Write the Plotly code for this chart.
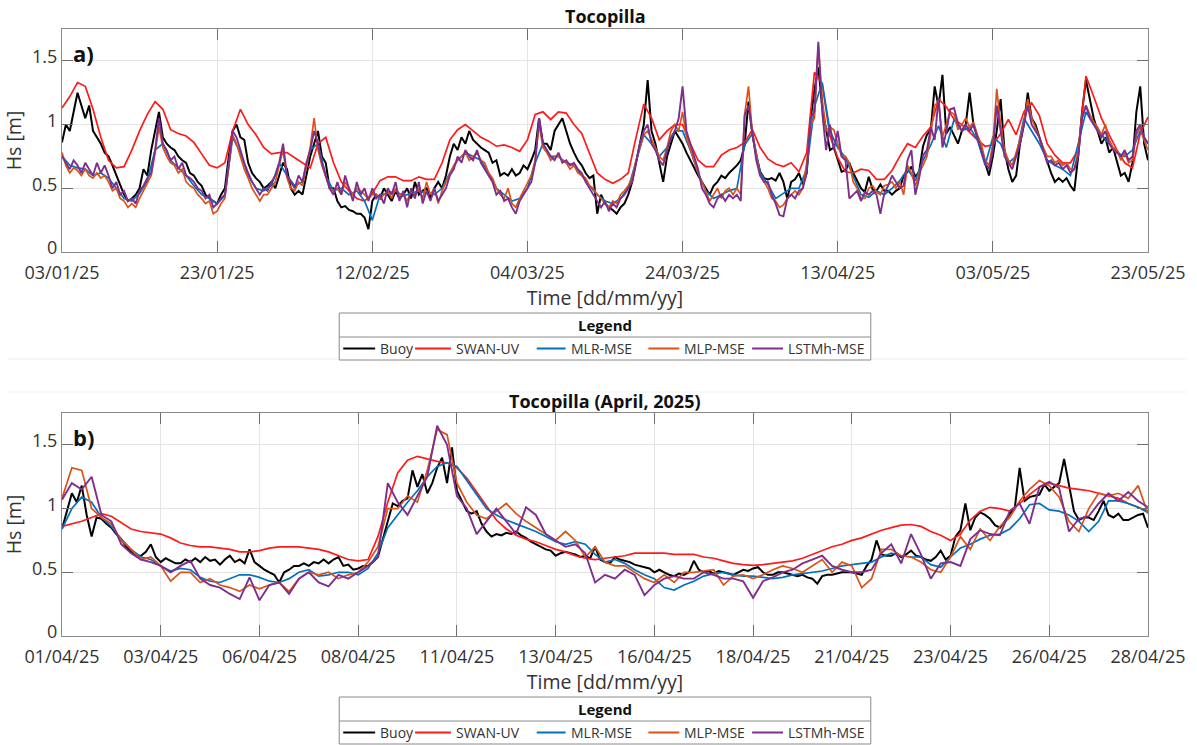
import pandas as pd
import plotly.graph_objects as go

# ---------------------------------------------------------------------------
# Panel a) Tocopilla, 03/01/25 - 23/05/25  (Hs in metres)
# ---------------------------------------------------------------------------
TOP_START = "2025-01-03 00:00"
TOP_END = "2025-05-23 00:00"

# 12-hourly values
top_buoy = [
    0.86, 1.00, 0.95, 1.10, 1.25, 1.15, 1.05, 1.15, 0.95, 0.90,
    0.85, 0.78, 0.75, 0.68, 0.60, 0.52, 0.45, 0.40, 0.42, 0.45,
    0.50, 0.65, 0.60, 0.80, 0.95, 1.10, 0.90, 0.85, 0.82, 0.80,
    0.75, 0.72, 0.70, 0.62, 0.60, 0.55, 0.52, 0.45, 0.42, 0.40,
    0.38, 0.45, 0.50, 0.75, 0.95, 1.00, 0.90, 0.88, 0.70, 0.62,
    0.58, 0.55, 0.50, 0.52, 0.55, 0.50, 0.60, 0.70, 0.65, 0.50,
    0.45, 0.48, 0.45, 0.60, 0.75, 0.85, 0.95, 0.75, 0.70, 0.50,
    0.50, 0.40, 0.35, 0.36, 0.33, 0.32, 0.30, 0.30, 0.27, 0.18,
    0.40, 0.45, 0.42, 0.50, 0.45, 0.40, 0.48, 0.42, 0.45, 0.50,
    0.42, 0.55, 0.45, 0.48, 0.50, 0.42, 0.50, 0.55, 0.50, 0.60,
    0.75, 0.85, 0.80, 0.90, 0.85, 0.95, 0.88, 0.85, 0.82, 0.80,
    0.78, 0.70, 0.72, 0.60, 0.62, 0.60, 0.65, 0.60, 0.62, 0.68,
    0.65, 0.72, 0.80, 1.05, 0.85, 0.85, 0.80, 0.95, 1.00, 1.05,
    0.95, 0.85, 0.78, 0.72, 0.68, 0.62, 0.58, 0.60, 0.30, 0.45,
    0.38, 0.35, 0.33, 0.30, 0.35, 0.38, 0.45, 0.55, 0.70, 0.85,
    1.00, 1.35, 0.95, 0.85, 0.70, 0.55, 0.75, 0.85, 0.95, 0.90,
    0.85, 0.78, 0.72, 0.65, 0.60, 0.55, 0.50, 0.45, 0.52, 0.55,
    0.60, 0.58, 0.62, 0.65, 0.68, 0.72, 0.84, 1.18, 0.92, 0.76,
    0.63, 0.58, 0.57, 0.58, 0.56, 0.62, 0.55, 0.42, 0.55, 0.57,
    0.62, 0.53, 0.62, 1.04, 1.27, 1.45, 1.14, 0.96, 0.80, 0.82,
    0.72, 0.63, 0.64, 0.70, 0.62, 0.56, 0.50, 0.47, 0.59, 0.49,
    0.48, 0.53, 0.48, 0.48, 0.45, 0.48, 0.50, 0.60, 0.63, 0.67,
    0.59, 0.63, 0.83, 0.92, 0.96, 1.30, 1.14, 1.39, 0.93, 0.98,
    0.91, 0.85, 0.95, 1.00, 1.25, 1.00, 0.90, 0.80, 0.70, 0.60,
    0.75, 0.95, 1.20, 0.80, 0.65, 0.55, 0.60, 0.85, 1.00, 1.25,
    1.05, 1.00, 0.90, 0.80, 0.70, 0.62, 0.55, 0.58, 0.55, 0.58,
    0.52, 0.48, 0.75, 1.10, 1.35, 1.20, 1.05, 0.95, 0.85, 0.90,
    0.78, 0.82, 0.70, 0.60, 0.62, 0.55, 0.70, 1.10, 1.30, 0.85,
    0.72,
]

# daily values
top_swan = [
    1.13, 1.22, 1.33, 1.30, 1.12, 0.90, 0.72, 0.66, 0.67, 0.80,
    0.95, 1.08, 1.18, 1.12, 0.96, 0.93, 0.91, 0.86, 0.77, 0.68,
    0.66, 0.70, 0.95, 1.12, 1.00, 0.92, 0.82, 0.77, 0.78, 0.78,
    0.74, 0.70, 0.66, 0.85, 0.90, 0.70, 0.55, 0.48, 0.42, 0.40,
    0.46, 0.56, 0.59, 0.59, 0.56, 0.56, 0.59, 0.57, 0.57, 0.70,
    0.88, 0.96, 1.00, 0.95, 0.90, 0.87, 0.83, 0.84, 0.82, 0.79,
    0.88, 1.08, 1.10, 1.04, 1.10, 1.09, 1.00, 0.93, 0.78, 0.62,
    0.57, 0.54, 0.57, 0.62, 0.90, 1.16, 1.05, 0.88, 0.95, 1.00,
    1.00, 0.85, 0.72, 0.67, 0.67, 0.76, 0.80, 0.82,
    0.86, 0.96, 0.82, 0.73, 0.69, 0.67, 0.70, 0.63, 0.78, 1.41,
    1.32, 0.91, 0.74, 0.63, 0.62, 0.65, 0.64, 0.57, 0.57, 0.64,
    0.75, 0.85, 0.82, 0.91, 0.98, 1.20, 1.14, 1.04,
    1.00, 0.94, 0.88, 0.83, 0.84, 0.93, 1.04, 0.92, 1.10, 1.17,
    1.07, 0.85, 0.76, 0.70, 0.70, 0.80, 1.38, 1.22, 1.05, 0.92,
    0.80, 0.70, 0.66, 0.93, 1.06,
]

# daily values
top_mlr = [
    0.75, 0.68, 0.66, 0.65, 0.60, 0.62, 0.58, 0.50, 0.42, 0.40,
    0.46, 0.56, 0.80, 0.85, 0.72, 0.66, 0.60, 0.52, 0.45, 0.42,
    0.38, 0.44, 0.90, 0.78, 0.60, 0.50, 0.48, 0.52, 0.70, 0.60,
    0.52, 0.55, 0.80, 0.85, 0.60, 0.48, 0.50, 0.45, 0.48, 0.40,
    0.25, 0.45, 0.46, 0.48, 0.44, 0.46, 0.48, 0.46, 0.45, 0.50,
    0.62, 0.72, 0.78, 0.75, 0.72, 0.62, 0.50, 0.45, 0.40, 0.42,
    0.50, 0.70, 0.85, 0.75, 0.75, 0.70, 0.68, 0.60, 0.52, 0.45,
    0.40, 0.38, 0.42, 0.50, 0.72, 0.92, 0.85, 0.75, 0.82, 0.95,
    0.95, 0.80, 0.62, 0.48, 0.42, 0.45, 0.48, 0.50,
    0.84, 0.93, 0.62, 0.53, 0.42, 0.46, 0.50, 0.50, 0.65, 1.14,
    1.33, 0.95, 0.82, 0.74, 0.60, 0.45, 0.43, 0.48, 0.45, 0.50,
    0.56, 0.65, 0.56, 0.72, 0.84, 0.99, 0.82, 1.04,
    0.95, 0.98, 0.88, 0.68, 0.90, 0.85, 0.70, 0.75, 1.05, 0.95,
    0.85, 0.72, 0.68, 0.65, 0.60, 0.85, 1.10, 1.00, 0.92, 0.85,
    0.78, 0.75, 0.80, 0.95, 0.85,
]

# 12-hourly values
top_mlp = [
    0.78, 0.68, 0.62, 0.66, 0.64, 0.60, 0.65, 0.60, 0.58, 0.62,
    0.58, 0.60, 0.55, 0.48, 0.50, 0.42, 0.40, 0.35, 0.38, 0.35,
    0.42, 0.48, 0.55, 0.60, 0.78, 0.98, 0.82, 0.75, 0.70, 0.68,
    0.62, 0.65, 0.55, 0.52, 0.50, 0.45, 0.42, 0.38, 0.40, 0.30,
    0.32, 0.38, 0.42, 0.65, 0.92, 0.85, 0.75, 0.65, 0.58, 0.50,
    0.45, 0.40, 0.45, 0.45, 0.50, 0.55, 0.68, 0.80, 0.58, 0.50,
    0.48, 0.55, 0.52, 0.68, 0.82, 1.05, 0.80, 0.68, 0.58, 0.50,
    0.48, 0.50, 0.45, 0.55, 0.50, 0.45, 0.50, 0.48, 0.45, 0.42,
    0.45, 0.45, 0.42, 0.45, 0.48, 0.42, 0.50, 0.45, 0.45, 0.40,
    0.48, 0.45, 0.50, 0.42, 0.55, 0.45, 0.50, 0.38, 0.48, 0.55,
    0.62, 0.68, 0.72, 0.75, 0.78, 0.72, 0.75, 0.78, 0.72, 0.70,
    0.62, 0.58, 0.50, 0.45, 0.42, 0.50, 0.38, 0.35, 0.42, 0.48,
    0.55, 0.60, 0.72, 1.00, 0.82, 0.78, 0.72, 0.75, 0.75, 0.72,
    0.70, 0.65, 0.68, 0.62, 0.60, 0.58, 0.52, 0.50, 0.45, 0.42,
    0.38, 0.35, 0.40, 0.38, 0.45, 0.48, 0.52, 0.58, 0.72, 0.82,
    0.92, 0.95, 0.88, 0.82, 0.75, 0.72, 0.82, 0.95, 1.00, 0.95,
    1.10, 0.90, 0.80, 0.70, 0.62, 0.55, 0.48, 0.40, 0.45, 0.50,
    0.42, 0.48, 0.50, 0.45, 0.50, 0.45, 1.08, 1.30, 0.93, 0.75,
    0.60, 0.55, 0.50, 0.42, 0.40, 0.35, 0.37, 0.42, 0.45, 0.48,
    0.45, 0.50, 0.70, 1.00, 1.05, 1.62, 1.20, 0.95, 0.98, 0.96,
    0.85, 0.75, 0.75, 0.70, 0.55, 0.50, 0.42, 0.42, 0.50, 0.52,
    0.47, 0.45, 0.52, 0.53, 0.55, 0.50, 0.55, 0.45, 0.68, 0.62,
    0.52, 0.62, 0.68, 0.75, 0.93, 1.15, 1.18, 0.90, 1.00, 1.10,
    1.08, 0.96, 1.00, 1.05, 0.98, 1.02, 0.92, 0.85, 0.72, 0.68,
    0.85, 1.28, 1.00, 0.80, 0.72, 0.68, 0.78, 0.88, 1.02, 1.20,
    1.05, 0.98, 0.90, 0.82, 0.75, 0.75, 0.70, 0.72, 0.68, 0.70,
    0.65, 0.65, 0.80, 1.05, 1.15, 1.08, 1.02, 0.98, 0.92, 1.00,
    0.88, 0.82, 0.80, 0.72, 0.78, 0.70, 0.72, 0.92, 0.98, 0.88,
    0.80,
]

# 12-hourly values
top_lstm = [
    0.75, 0.70, 0.65, 0.72, 0.68, 0.62, 0.70, 0.65, 0.60, 0.70,
    0.62, 0.68, 0.60, 0.50, 0.55, 0.45, 0.48, 0.40, 0.42, 0.38,
    0.48, 0.52, 0.58, 0.62, 0.80, 1.05, 0.85, 0.80, 0.72, 0.75,
    0.65, 0.70, 0.60, 0.58, 0.55, 0.50, 0.48, 0.42, 0.45, 0.35,
    0.38, 0.42, 0.45, 0.70, 0.95, 0.90, 0.80, 0.70, 0.62, 0.55,
    0.50, 0.45, 0.50, 0.48, 0.55, 0.60, 0.70, 0.85, 0.60, 0.55,
    0.50, 0.60, 0.55, 0.70, 0.80, 0.95, 0.85, 0.70, 0.60, 0.50,
    0.45, 0.55, 0.45, 0.60, 0.50, 0.40, 0.55, 0.45, 0.50, 0.40,
    0.50, 0.42, 0.45, 0.38, 0.50, 0.45, 0.55, 0.40, 0.48, 0.35,
    0.50, 0.42, 0.55, 0.38, 0.48, 0.40, 0.50, 0.40, 0.45, 0.50,
    0.60, 0.65, 0.75, 0.70, 0.80, 0.75, 0.72, 0.80, 0.70, 0.65,
    0.60, 0.55, 0.45, 0.48, 0.40, 0.42, 0.35, 0.30, 0.40, 0.45,
    0.50, 0.55, 0.70, 1.05, 0.85, 0.80, 0.75, 0.72, 0.78, 0.70,
    0.72, 0.68, 0.70, 0.65, 0.62, 0.55, 0.50, 0.45, 0.40, 0.35,
    0.40, 0.32, 0.38, 0.35, 0.42, 0.45, 0.50, 0.55, 0.70, 0.85,
    0.95, 1.00, 0.85, 0.80, 0.72, 0.68, 0.80, 0.90, 0.95, 1.05,
    1.30, 0.95, 0.85, 0.75, 0.65, 0.50, 0.45, 0.38, 0.35, 0.42,
    0.45, 0.40, 0.45, 0.42, 0.45, 0.40, 1.07, 1.15, 0.95, 0.72,
    0.60, 0.55, 0.55, 0.45, 0.38, 0.29, 0.28, 0.42, 0.45, 0.42,
    0.48, 0.50, 0.62, 1.05, 1.10, 1.65, 1.10, 0.80, 1.00, 0.80,
    0.95, 0.75, 0.72, 0.42, 0.45, 0.48, 0.40, 0.47, 0.45, 0.48,
    0.45, 0.30, 0.46, 0.52, 0.60, 0.55, 0.50, 0.52, 0.72, 0.80,
    0.45, 0.58, 0.76, 0.80, 0.98, 0.88, 1.21, 0.82, 0.94, 1.12,
    1.13, 1.01, 0.95, 1.00, 0.95, 1.00, 0.90, 0.80, 0.70, 0.65,
    0.80, 1.15, 0.95, 0.75, 0.70, 0.65, 0.75, 0.85, 1.00, 1.15,
    1.00, 0.95, 0.90, 0.80, 0.70, 0.72, 0.68, 0.70, 0.65, 0.68,
    0.62, 0.65, 0.75, 1.05, 1.15, 1.05, 1.00, 0.95, 0.90, 0.95,
    0.85, 0.80, 0.78, 0.75, 0.80, 0.72, 0.75, 0.95, 1.00, 0.90,
    0.85,
]

top_tick_vals = ["2025-01-03", "2025-01-23", "2025-02-12", "2025-03-04",
                 "2025-03-24", "2025-04-13", "2025-05-03", "2025-05-23"]
top_tick_text = ["03/01/25", "23/01/25", "12/02/25", "04/03/25",
                 "24/03/25", "13/04/25", "03/05/25", "23/05/25"]

# ---------------------------------------------------------------------------
# Panel b) Tocopilla, April 2025
# ---------------------------------------------------------------------------
APR_START = "2025-04-01 00:00"
APR_END = "2025-04-28 12:00"

# 3-hourly values, one row per day
apr_buoy = [
    0.84, 0.98, 1.12, 1.05, 1.18, 0.95, 0.78, 0.93,
    0.92, 0.88, 0.85, 0.80, 0.76, 0.70, 0.66, 0.63,
    0.63, 0.66, 0.72, 0.62, 0.58, 0.61, 0.59, 0.57,
    0.57, 0.60, 0.58, 0.61, 0.58, 0.62, 0.59, 0.60,
    0.56, 0.60, 0.63, 0.58, 0.60, 0.57, 0.68, 0.58,
    0.55, 0.52, 0.50, 0.48, 0.42, 0.50, 0.52, 0.55,
    0.55, 0.57, 0.55, 0.58, 0.57, 0.60, 0.57, 0.60,
    0.62, 0.55, 0.56, 0.52, 0.53, 0.55, 0.55, 0.58,
    0.62, 0.75, 0.90, 1.04, 1.02, 1.06, 1.08, 1.30,
    1.17, 1.27, 1.12, 1.20, 1.32, 1.40, 1.20, 1.48,
    1.14, 1.06, 0.98, 0.96, 0.98, 0.88, 0.82, 0.78,
    0.80, 0.79, 0.81, 0.80, 0.82, 0.79, 0.77, 0.74,
    0.72, 0.70, 0.68, 0.67, 0.63, 0.65, 0.66, 0.65,
    0.64, 0.62, 0.63, 0.61, 0.70, 0.60, 0.58, 0.57,
    0.62, 0.60, 0.59, 0.58, 0.56, 0.55, 0.54, 0.53,
    0.50, 0.52, 0.50, 0.48, 0.47, 0.49, 0.48, 0.50,
    0.59, 0.52, 0.50, 0.51, 0.49, 0.51, 0.50, 0.49,
    0.48, 0.50, 0.52, 0.51, 0.53, 0.54, 0.50, 0.48,
    0.48, 0.50, 0.50, 0.49, 0.48, 0.47, 0.48, 0.46,
    0.45, 0.41, 0.47, 0.48, 0.48, 0.49, 0.50, 0.50,
    0.50, 0.49, 0.48, 0.55, 0.60, 0.75, 0.64, 0.63,
    0.63, 0.65, 0.62, 0.64, 0.67, 0.63, 0.62, 0.60,
    0.59, 0.62, 0.67, 0.60, 0.63, 0.78, 0.83, 1.04,
    0.83, 0.93, 0.97, 0.95, 0.92, 0.87, 0.85, 0.90,
    0.96, 1.00, 1.32, 1.06, 1.09, 1.10, 1.11, 1.19,
    1.14, 1.17, 1.20, 1.39, 1.19, 0.98, 0.91, 0.93,
    0.93, 0.91, 0.98, 1.06, 0.95, 0.93, 0.96, 0.91,
    0.91, 0.93, 0.95, 0.96, 0.85,
]

# 6-hourly values, one row per day
apr_swan = [
    0.86, 0.88, 0.90, 0.93,
    0.96, 0.94, 0.89, 0.84,
    0.82, 0.81, 0.80, 0.77,
    0.73, 0.71, 0.70, 0.70,
    0.69, 0.68, 0.66, 0.66,
    0.67, 0.69, 0.70, 0.70,
    0.70, 0.69, 0.68, 0.66,
    0.63, 0.60, 0.59, 0.60,
    0.78, 1.05, 1.28, 1.38,
    1.41, 1.39, 1.37, 1.36,
    1.32, 1.24, 1.13, 1.02,
    0.91, 0.84, 0.79, 0.76,
    0.74, 0.71, 0.68, 0.66,
    0.63, 0.61, 0.60, 0.61,
    0.62, 0.63, 0.65, 0.65,
    0.65, 0.65, 0.64, 0.64,
    0.64, 0.62, 0.61, 0.59,
    0.57, 0.56, 0.555, 0.56,
    0.57, 0.58, 0.59, 0.61,
    0.64, 0.67, 0.70, 0.72,
    0.75, 0.77, 0.80, 0.83,
    0.85, 0.87, 0.875, 0.86,
    0.82, 0.79, 0.75, 0.80,
    0.91, 0.98, 1.01, 1.00,
    0.98, 1.04, 1.11, 1.17,
    1.20, 1.18, 1.16, 1.15,
    1.14, 1.12, 1.10, 1.08,
    1.04, 1.01, 0.98,
]

apr_mlr = [
    0.84, 1.00, 1.09, 1.05,
    0.93, 0.86, 0.76, 0.68,
    0.62, 0.60, 0.55, 0.51,
    0.53, 0.52, 0.46, 0.43,
    0.42, 0.45, 0.48, 0.48,
    0.46, 0.43, 0.42, 0.45,
    0.50, 0.52, 0.47, 0.48,
    0.50, 0.50, 0.48, 0.53,
    0.65, 0.85, 0.95, 1.05,
    1.14, 1.25, 1.33, 1.36,
    1.33, 1.22, 1.10, 1.00,
    0.95, 0.91, 0.88, 0.85,
    0.82, 0.78, 0.74, 0.72,
    0.74, 0.72, 0.64, 0.58,
    0.60, 0.57, 0.52, 0.48,
    0.45, 0.38, 0.36, 0.40,
    0.43, 0.47, 0.49, 0.50,
    0.48, 0.47, 0.47, 0.46,
    0.45, 0.46, 0.48, 0.49,
    0.50, 0.51, 0.53, 0.55,
    0.56, 0.57, 0.58, 0.62,
    0.65, 0.63, 0.62, 0.62,
    0.56, 0.54, 0.62, 0.69,
    0.72, 0.76, 0.79, 0.80,
    0.84, 0.92, 1.03, 1.04,
    0.99, 0.98, 0.95, 0.90,
    0.82, 0.90, 1.06, 1.06,
    1.04, 1.01, 0.97,
]

apr_mlp = [
    1.08, 1.32, 1.30, 1.00,
    0.93, 0.88, 0.75, 0.68,
    0.60, 0.62, 0.55, 0.43,
    0.50, 0.50, 0.42, 0.45,
    0.40, 0.38, 0.35, 0.40,
    0.37, 0.40, 0.42, 0.35,
    0.45, 0.50, 0.48, 0.50,
    0.45, 0.48, 0.50, 0.58,
    0.70, 1.00, 1.00, 1.10,
    1.05, 1.30, 1.62, 1.58,
    1.20, 1.05, 0.95, 0.92,
    0.98, 1.04, 0.96, 0.90,
    0.85, 0.80, 0.75, 0.82,
    0.75, 0.62, 0.70, 0.58,
    0.55, 0.55, 0.50, 0.45,
    0.42, 0.48, 0.42, 0.50,
    0.50, 0.51, 0.52, 0.40,
    0.47, 0.48, 0.45, 0.48,
    0.52, 0.55, 0.53, 0.50,
    0.55, 0.60, 0.50, 0.58,
    0.55, 0.38, 0.45, 0.68,
    0.68, 0.63, 0.62, 0.58,
    0.52, 0.50, 0.62, 0.78,
    0.68, 0.84, 0.75, 0.86,
    0.93, 1.06, 1.15, 1.22,
    1.18, 1.09, 0.90, 0.82,
    1.00, 1.12, 1.10, 1.12,
    1.08, 1.18, 0.96,
]

apr_lstm = [
    1.07, 1.20, 1.15, 1.25,
    0.95, 0.90, 0.72, 0.65,
    0.60, 0.58, 0.55, 0.50,
    0.55, 0.59, 0.45, 0.40,
    0.38, 0.33, 0.29, 0.46,
    0.28, 0.40, 0.42, 0.33,
    0.45, 0.50, 0.42, 0.39,
    0.48, 0.45, 0.50, 0.55,
    0.62, 1.20, 1.05, 0.95,
    1.10, 1.25, 1.65, 1.50,
    1.10, 1.00, 0.80, 0.90,
    1.00, 0.90, 0.80, 1.01,
    0.95, 0.80, 0.75, 0.70,
    0.72, 0.65, 0.42, 0.48,
    0.45, 0.52, 0.48, 0.32,
    0.40, 0.45, 0.47, 0.45,
    0.45, 0.50, 0.48, 0.45,
    0.45, 0.43, 0.30, 0.43,
    0.46, 0.50, 0.52, 0.57,
    0.60, 0.63, 0.55, 0.52,
    0.50, 0.50, 0.52, 0.65,
    0.72, 0.57, 0.80, 0.64,
    0.45, 0.57, 0.58, 0.55,
    0.76, 0.83, 0.80, 0.79,
    0.98, 1.04, 0.88, 1.17,
    1.21, 1.16, 0.82, 0.92,
    0.94, 1.04, 1.12, 1.06,
    1.13, 1.06, 1.01,
]

apr_tick_vals = ["2025-04-01 00:00", "2025-04-03 12:00", "2025-04-06 00:00",
                 "2025-04-08 12:00", "2025-04-11 00:00", "2025-04-13 12:00",
                 "2025-04-16 00:00", "2025-04-18 12:00", "2025-04-21 00:00",
                 "2025-04-23 12:00", "2025-04-26 00:00", "2025-04-28 12:00"]
apr_tick_text = ["01/04/25", "03/04/25", "06/04/25", "08/04/25", "11/04/25",
                 "13/04/25", "16/04/25", "18/04/25", "21/04/25", "23/04/25",
                 "26/04/25", "28/04/25"]

hs_tick_vals = [0, 0.5, 1, 1.5]
hs_tick_text = ["0", "0.5", "1", "1.5"]

# ---------------------------------------------------------------------------
# Series styling
# ---------------------------------------------------------------------------
SERIES = [
    # name, colour, width
    ("Buoy", "#000000", 2.0),
    ("SWAN-UV", "#ff1a1a", 1.7),
    ("MLR-MSE", "#0072bd", 1.7),
    ("MLP-MSE", "#d95319", 1.7),
    ("LSTMh-MSE", "#7e2f8e", 1.9),
]

top_data = [(top_buoy, "12h"), (top_swan, "1D"), (top_mlr, "1D"),
            (top_mlp, "12h"), (top_lstm, "12h")]
apr_data = [(apr_buoy, "3h"), (apr_swan, "6h"), (apr_mlr, "6h"),
            (apr_mlp, "6h"), (apr_lstm, "6h")]

FONT = "Open Sans"
TXT = "#333333"
GRID = "#e4e4e4"
AXLINE = "#8a8a8a"

# figure size and plot-area box in pixels
W, H = 1197, 745
ML, MR, MT, MB = 62, 46, 29, 109
PW, PH = W - ML - MR, H - MT - MB


def px(x):
    return (x - ML) / PW


def py(y):
    return (H - MB - y) / PH


fig = go.Figure()

for (name, color, width), (vals, step) in zip(SERIES, top_data):
    t = pd.date_range(TOP_START, periods=len(vals), freq=step)
    fig.add_trace(go.Scatter(x=t, y=vals, mode="lines", name=name,
                             line=dict(color=color, width=width),
                             xaxis="x", yaxis="y", showlegend=False))

for (name, color, width), (vals, step) in zip(SERIES, apr_data):
    t = pd.date_range(APR_START, periods=len(vals), freq=step)
    fig.add_trace(go.Scatter(x=t, y=vals, mode="lines", name=name,
                             line=dict(color=color, width=width),
                             xaxis="x2", yaxis="y2", showlegend=False))

axis_common = dict(
    showgrid=True, gridcolor=GRID, gridwidth=1, zeroline=False,
    showline=True, linecolor=AXLINE, linewidth=1, mirror="ticks",
    ticks="inside", ticklen=11, tickcolor="#6e6e6e", tickwidth=1,
    tickfont=dict(family=FONT, size=18, color=TXT),
)
# keep the y "0" label clear of the first date label
x_common = dict(axis_common, ticklabelstandoff=4)
y_common = dict(axis_common, ticklabelshift=-4)

title_font = dict(family=FONT, size=19.5, color=TXT)

top_y0 = py(252)
bot_y1 = py(413)

fig.update_layout(
    width=W, height=H,
    margin=dict(l=ML, r=MR, t=MT, b=MB),
    paper_bgcolor="white", plot_bgcolor="white",
    font=dict(family=FONT, color=TXT),
    xaxis=dict(x_common, domain=[0, 1], anchor="y",
               range=[TOP_START, TOP_END], tickmode="array",
               tickvals=top_tick_vals, ticktext=top_tick_text,
               title=dict(text="Time [dd/mm/yy]", font=title_font,
                          standoff=0)),
    yaxis=dict(y_common, domain=[top_y0, 1], anchor="x",
               range=[0, 1.75], tickmode="array",
               tickvals=hs_tick_vals, ticktext=hs_tick_text,
               title=dict(text="Hs [m]", font=title_font, standoff=5)),
    xaxis2=dict(x_common, domain=[0, 1], anchor="y2",
                range=[APR_START, APR_END], tickmode="array",
                tickvals=apr_tick_vals, ticktext=apr_tick_text,
                title=dict(text="Time [dd/mm/yy]", font=title_font,
                           standoff=0)),
    yaxis2=dict(y_common, domain=[0, bot_y1], anchor="x2",
                range=[0, 1.75], tickmode="array",
                tickvals=hs_tick_vals, ticktext=hs_tick_text,
                title=dict(text="Hs [m]", font=title_font, standoff=5)),
)

annotations = []
shapes = []

# panel titles and letters
for title, ty, letter, ly in [("Tocopilla", 16, "a)", 53),
                              ("Tocopilla (April, 2025)", 401, "b)", 437)]:
    annotations.append(dict(text="<b>%s</b>" % title, x=px(606.5), y=py(ty),
                            xref="paper", yref="paper", xanchor="center",
                            yanchor="middle", showarrow=False,
                            font=dict(family=FONT, size=18, color="#111111")))
    annotations.append(dict(text="<b>%s</b>" % letter, x=px(71), y=py(ly),
                            xref="paper", yref="paper", xanchor="left",
                            yanchor="middle", showarrow=False,
                            font=dict(family=FONT, size=22, color="#111111")))

# boxed legends under each panel
LEG_X0, LEG_X1 = 340, 873
leg_items = [(344, 376, 379), (416, 452, 455), (538, 567, 570),
             (650, 681, 684), (754, 785, 788)]
for top, sep, bot in [(313, 337, 360), (697, 721, 744)]:
    shapes.append(dict(type="rect", xref="paper", yref="paper",
                       x0=px(LEG_X0), x1=px(LEG_X1), y0=py(bot), y1=py(top),
                       line=dict(color="#8a8a8a", width=1), fillcolor="white",
                       layer="above"))
    shapes.append(dict(type="line", xref="paper", yref="paper",
                       x0=px(LEG_X0), x1=px(LEG_X1), y0=py(sep), y1=py(sep),
                       line=dict(color="#8a8a8a", width=1), layer="above"))
    annotations.append(dict(text="<b>Legend</b>", x=px((LEG_X0 + LEG_X1) / 2),
                            y=py((top + sep) / 2), xref="paper", yref="paper",
                            xanchor="center", yanchor="middle", showarrow=False,
                            font=dict(family=FONT, size=15, color="#111111")))
    row_y = py((sep + bot) / 2)
    for (name, color, _), (lx0, lx1, tx) in zip(SERIES, leg_items):
        shapes.append(dict(type="line", xref="paper", yref="paper",
                           x0=px(lx0), x1=px(lx1), y0=row_y, y1=row_y,
                           line=dict(color=color, width=2), layer="above"))
        annotations.append(dict(text=name, x=px(tx), y=row_y, xref="paper",
                                yref="paper", xanchor="left", yanchor="middle",
                                showarrow=False,
                                font=dict(family=FONT, size=14, color=TXT)))

# faint separators between the two panels
for yy in (359, 392):
    shapes.append(dict(type="line", xref="paper", yref="paper",
                       x0=px(8), x1=px(1190), y0=py(yy), y1=py(yy),
                       line=dict(color="#f1f1f1", width=1), layer="below"))

fig.update_layout(annotations=annotations, shapes=shapes)

fig.write_html("out.html")
